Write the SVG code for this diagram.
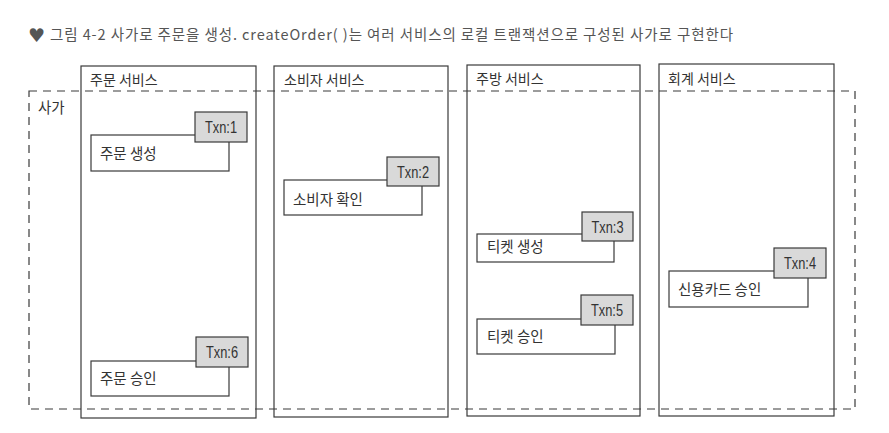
<svg xmlns="http://www.w3.org/2000/svg" width="889" height="433" viewBox="0 0 889 433">
<style>
  .bg { fill: #ffffff; }
  .svc { fill: #ffffff; stroke: #3a3a3a; stroke-width: 1.2; }
  .saga { fill: none; stroke: #3a3a3a; stroke-width: 1.2; stroke-dasharray: 8 6; }
  .step { fill: #ffffff; stroke: #3a3a3a; stroke-width: 1.2; }
  .txn { fill: #d9d9d9; stroke: #3a3a3a; stroke-width: 1.2; }
  .t { font-family: "Noto Sans CJK KR", "Noto Sans", "Liberation Sans", sans-serif; fill: #333333; }
  .title { font-size: 14.5px; fill: #555555; }
  .svcl { font-size: 14px; }
  .stepl { font-size: 14.5px; }
  .txnl { font-family: "Liberation Sans", "Noto Sans", sans-serif; font-size: 16px; fill: #333333; text-anchor: middle; }
</style>
<rect class="bg" x="0" y="0" width="889" height="433"/>
<g id="title">
  <text x="28" y="42" font-family="DejaVu Sans, sans-serif" font-size="19" fill="#555555">♥</text>
  <text class="t title" x="50" y="40" textLength="683" lengthAdjust="spacing">그림 4-2 사가로 주문을 생성. createOrder( )는 여러 서비스의 로컬 트랜잭션으로 구성된 사가로 구현한다</text>
</g>
<g id="order-service">
  <rect class="svc" x="81" y="66" width="175" height="352"/>
  <text class="t svcl" x="90" y="85">주문 서비스</text>
</g>
<g id="consumer-service">
  <rect class="svc" x="274" y="66" width="174" height="351"/>
  <text class="t svcl" x="284" y="85">소비자 서비스</text>
</g>
<g id="kitchen-service">
  <rect class="svc" x="467" y="65" width="173" height="351"/>
  <text class="t svcl" x="476" y="84">주방 서비스</text>
</g>
<g id="accounting-service">
  <rect class="svc" x="659" y="64" width="175" height="352"/>
  <text class="t svcl" x="668" y="84">회계 서비스</text>
</g>
<g id="saga">
  <rect class="saga" x="29" y="91" width="826" height="318"/>
  <text class="t stepl" x="38" y="113">사가</text>
</g>
<g id="step-create-order">
  <rect class="step" x="91" y="135" width="138" height="36"/>
  <text class="t stepl" x="100" y="159">주문 생성</text>
  <rect class="txn" x="195" y="112" width="52" height="30"/>
  <text class="txnl" x="221" y="133" textLength="32" lengthAdjust="spacingAndGlyphs">Txn:1</text>
</g>
<g id="step-verify-consumer">
  <rect class="step" x="284" y="180" width="138" height="35"/>
  <text class="t stepl" x="293" y="205">소비자 확인</text>
  <rect class="txn" x="387" y="157" width="52" height="29"/>
  <text class="txnl" x="413" y="178" textLength="32" lengthAdjust="spacingAndGlyphs">Txn:2</text>
</g>
<g id="step-create-ticket">
  <rect class="step" x="477" y="234" width="137" height="28"/>
  <text class="t stepl" x="487" y="252">티켓 생성</text>
  <rect class="txn" x="582" y="212" width="51" height="29"/>
  <text class="txnl" x="607.5" y="233" textLength="32" lengthAdjust="spacingAndGlyphs">Txn:3</text>
</g>
<g id="step-authorize-card">
  <rect class="step" x="669" y="271" width="139" height="36"/>
  <text class="t stepl" x="678" y="295">신용카드 승인</text>
  <rect class="txn" x="774" y="248" width="52" height="30"/>
  <text class="txnl" x="800" y="269" textLength="32" lengthAdjust="spacingAndGlyphs">Txn:4</text>
</g>
<g id="step-approve-ticket">
  <rect class="step" x="477" y="319" width="138" height="35"/>
  <text class="t stepl" x="487" y="342">티켓 승인</text>
  <rect class="txn" x="581" y="295" width="52" height="30"/>
  <text class="txnl" x="607" y="316" textLength="32" lengthAdjust="spacingAndGlyphs">Txn:5</text>
</g>
<g id="step-approve-order">
  <rect class="step" x="91" y="361" width="138" height="35"/>
  <text class="t stepl" x="100" y="384">주문 승인</text>
  <rect class="txn" x="196" y="337" width="52" height="30"/>
  <text class="txnl" x="222" y="358" textLength="32" lengthAdjust="spacingAndGlyphs">Txn:6</text>
</g>
<g id="connectors"></g>
</svg>
